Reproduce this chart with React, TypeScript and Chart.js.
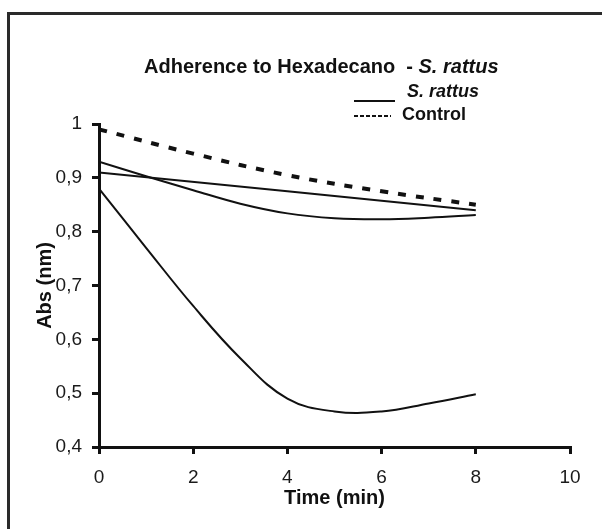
import React, { useEffect, useRef } from "react";
import { Chart, registerables } from "chart.js";

Chart.register(...registerables);

const FONT = "'Liberation Sans', Arial, sans-serif";

const titleMain = "Adherence to Hexadecano  - ";
const titleItalic = "S. rattus";
const legendSolidLabel = "S. rattus";
const legendDashedLabel = "Control";
const xAxisTitle = "Time (min)";
const yAxisTitle = "Abs (nm)";

const xTicks = [0, 2, 4, 6, 8, 10];
const yTicks = [0.4, 0.5, 0.6, 0.7, 0.8, 0.9, 1];

const controlTimes = [0, 2, 4, 6, 8];
const controlValues = [0.99, 0.945, 0.905, 0.875, 0.85];

const straightTimes = [0, 8];
const straightValues = [0.91, 0.84];

const curveTimes = [0, 1, 2, 3, 4, 5, 6, 7, 8];
const upperCurveValues = [0.93, 0.903, 0.877, 0.852, 0.834, 0.825, 0.823, 0.826, 0.831];
const lowerCurveValues = [0.88, 0.77, 0.662, 0.565, 0.49, 0.466, 0.466, 0.481, 0.498];

const toPoints = (xs: number[], ys: number[]) => xs.map((x, i) => ({ x, y: ys[i] }));

const decorPlugin = {
  id: "decor",
  beforeDraw(chart: any) {
    const ctx = chart.ctx;
    ctx.save();
    ctx.fillStyle = "#ffffff";
    ctx.fillRect(0, 0, chart.width, chart.height);
    ctx.strokeStyle = "#2a2a2a";
    ctx.lineWidth = 3;
    ctx.beginPath();
    ctx.moveTo(8.5, chart.height);
    ctx.lineTo(8.5, 13.5);
    ctx.lineTo(chart.width, 13.5);
    ctx.stroke();
    ctx.restore();
  },
  afterDraw(chart: any) {
    const ctx = chart.ctx;
    ctx.save();
    ctx.fillStyle = "#111";
    ctx.textBaseline = "middle";
    ctx.textAlign = "left";
    ctx.font = `bold 20px ${FONT}`;
    const tx = 144;
    ctx.fillText(titleMain, tx, 67);
    const w = ctx.measureText(titleMain).width;
    ctx.font = `italic bold 20px ${FONT}`;
    ctx.fillText(titleItalic, tx + w, 67);

    ctx.strokeStyle = "#111";
    ctx.lineWidth = 2;
    ctx.beginPath();
    ctx.moveTo(354, 101);
    ctx.lineTo(395, 101);
    ctx.stroke();
    ctx.font = `italic bold 18px ${FONT}`;
    ctx.fillText(legendSolidLabel, 407, 92);

    ctx.setLineDash([4, 2]);
    ctx.beginPath();
    ctx.moveTo(354, 116);
    ctx.lineTo(391, 116);
    ctx.stroke();
    ctx.setLineDash([]);
    ctx.font = `bold 18px ${FONT}`;
    ctx.fillText(legendDashedLabel, 402, 115);
    ctx.restore();
  },
};

export default function App() {
  const ref = useRef<HTMLCanvasElement | null>(null);

  useEffect(() => {
    if (!ref.current) return;
    const solid = {
      borderColor: "#111",
      borderWidth: 2,
      pointRadius: 0,
      fill: false,
      tension: 0.4,
    };
    const chart = new Chart(ref.current, {
      type: "line",
      data: {
        datasets: [
          {
            label: legendDashedLabel,
            data: toPoints(controlTimes, controlValues),
            borderColor: "#111",
            borderWidth: 4,
            borderDash: [8, 10],
            borderCapStyle: "butt",
            pointRadius: 0,
            fill: false,
            tension: 0.4,
          },
          { label: "line1", data: toPoints(straightTimes, straightValues), ...solid },
          { label: "line2", data: toPoints(curveTimes, upperCurveValues), ...solid },
          { label: "line3", data: toPoints(curveTimes, lowerCurveValues), ...solid },
        ],
      },
      options: {
        responsive: false,
        animation: false,
        layout: { padding: { left: 35, right: 32, top: 124, bottom: 17 } },
        plugins: {
          legend: { display: false },
          title: { display: false },
          tooltip: { enabled: false },
        },
        scales: {
          x: {
            type: "linear",
            min: 0,
            max: 10,
            afterFit: (s: any) => {
              s.height = 65;
            },
            afterBuildTicks: (s: any) => {
              s.ticks = xTicks.map((v) => ({ value: v }));
            },
            ticks: {
              color: "#1a1a1a",
              padding: 12,
              maxRotation: 0,
              font: { family: FONT, size: 19 },
              callback: (v: any) => String(v),
            },
            grid: {
              drawOnChartArea: false,
              drawTicks: true,
              tickLength: 7,
              color: "#111",
              lineWidth: 3,
            },
            border: { display: true, color: "#111", width: 3 },
            title: {
              display: true,
              text: xAxisTitle,
              color: "#111",
              font: { family: FONT, size: 20, weight: "bold", lineHeight: 1 },
              padding: { top: 0, bottom: 4 },
            },
          },
          y: {
            type: "linear",
            min: 0.4,
            max: 1,
            afterFit: (s: any) => {
              s.width = 64;
            },
            afterBuildTicks: (s: any) => {
              s.ticks = yTicks.map((v) => ({ value: v }));
            },
            ticks: {
              color: "#1a1a1a",
              padding: 10,
              font: { family: FONT, size: 19 },
              callback: (v: any) => String(Math.round(v * 10) / 10).replace(".", ","),
            },
            grid: {
              drawOnChartArea: false,
              drawTicks: true,
              tickLength: 7,
              color: "#111",
              lineWidth: 3,
            },
            border: { display: true, color: "#111", width: 3 },
            title: {
              display: true,
              text: yAxisTitle,
              color: "#111",
              font: { family: FONT, size: 20, weight: "bold", lineHeight: 1 },
              padding: { top: 0, bottom: 0 },
            },
          },
        },
      },
      plugins: [decorPlugin],
    } as any);
    return () => chart.destroy();
  }, []);

  return (
    <div style={{ position: "fixed", left: 0, top: 0, width: 602, height: 529, background: "#fff" }}>
      <canvas ref={ref} width={602} height={529} style={{ display: "block", width: 602, height: 529 }} />
    </div>
  );
}
